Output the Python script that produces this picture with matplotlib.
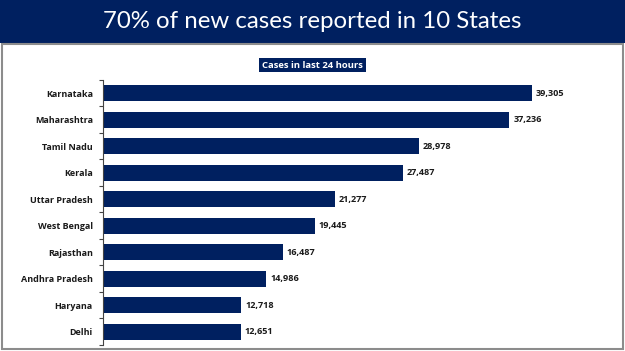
import matplotlib
matplotlib.use("Agg")
import matplotlib.pyplot as plt
from matplotlib.patches import Rectangle

states = ["Karnataka", "Maharashtra", "Tamil Nadu", "Kerala", "Uttar Pradesh",
          "West Bengal", "Rajasthan", "Andhra Pradesh", "Haryana", "Delhi"]
cases = [39305, 37236, 28978, 27487, 21277, 19445, 16487, 14986, 12718, 12651]
title = "70% of new cases reported in 10 States"
subtitle = "Cases in last 24 hours"

W, H = 625, 351
fig = plt.figure(figsize=(W / 100, H / 100), dpi=100)
fig.patch.set_facecolor("white")
LF = ["Open Sans", "DejaVu Sans"]

def fx(px):
    return px / W

def fy(py):
    return 1 - py / H

# Banner
fig.patches.append(Rectangle((0, fy(43)), 1, 43 / H, transform=fig.transFigure,
                             facecolor="#002060", edgecolor="none", zorder=0))
# Panel border (grey)
fig.patches.append(Rectangle((fx(2), fy(348.5)), fx(620.5), (348.5 - 44) / H,
                             transform=fig.transFigure, facecolor="none",
                             edgecolor="#8c8c8c", linewidth=1.5, zorder=1))
fig.text(0.5, fy(21), title, ha="center", va="center", color="white",
         fontsize=17.3, family="Lato")

# Subtitle box
fig.text(fx(312.5), fy(65), subtitle, ha="center", va="center", color="white",
         fontsize=6.8, fontweight="bold", family=LF,
         bbox=dict(boxstyle="square,pad=0.3", facecolor="#002060", edgecolor="none"))

# Axes
left, right, top, bottom = 102.5, 600, 80, 345
ax = fig.add_axes([fx(left), fy(bottom), (right - left) / W, (bottom - top) / H])
y = list(range(len(states)))
ax.barh(y, cases, height=0.6, color="#002060", edgecolor="none")
ax.set_ylim(len(states) - 0.5, -0.5)
ax.set_xlim(0, (right - left) / ((532 - left) / 39305))
for yi, v in zip(y, cases):
    ax.text(v + 350, yi, f"{v:,}", va="center", ha="left", fontsize=6.6,
            fontweight="bold", family=LF, color="#1a1a1a")
ax.set_yticks(y)
ax.set_yticklabels(states, fontsize=6.5, fontweight="bold", family=LF, color="#1a1a1a")
ax.set_yticks([i - 0.5 for i in range(len(states) + 1)], minor=True)
ax.tick_params(axis="y", which="minor", length=3, width=0.8, color="#444444", direction="out")
ax.tick_params(axis="y", which="major", length=0, pad=7)
ax.set_xticks([])
for s in ["top", "right", "bottom"]:
    ax.spines[s].set_visible(False)
ax.spines["left"].set_color("#444444")
ax.spines["left"].set_linewidth(0.8)
ax.set_facecolor("none")

fig.savefig("out.png", dpi=100)
